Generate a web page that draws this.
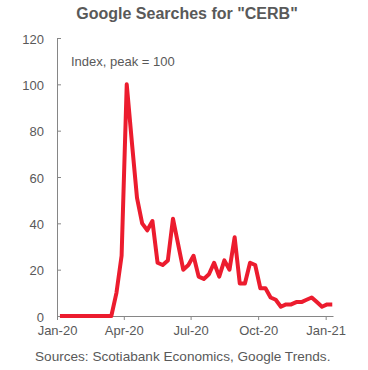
<!DOCTYPE html>
<html>
<head>
<meta charset="utf-8">
<script src="https://cdn.jsdelivr.net/npm/d3@7"></script>
<style>
  body { margin: 0; background: #fff; }
  text { font-family: 'Liberation Sans', Arial, sans-serif; }
</style>
</head>
<body>
<div id="chart"></div>
<script>
// Weekly Google Trends index for "CERB"
var weeks = [
  '2020-01-05', '2020-01-12', '2020-01-19', '2020-01-26', '2020-02-02', '2020-02-09',
  '2020-02-16', '2020-02-23', '2020-03-01', '2020-03-08', '2020-03-15', '2020-03-22',
  '2020-03-29', '2020-04-05', '2020-04-12', '2020-04-19', '2020-04-26', '2020-05-03',
  '2020-05-10', '2020-05-17', '2020-05-24', '2020-05-31', '2020-06-07', '2020-06-14',
  '2020-06-21', '2020-06-28', '2020-07-05', '2020-07-12', '2020-07-19', '2020-07-26',
  '2020-08-02', '2020-08-09', '2020-08-16', '2020-08-23', '2020-08-30', '2020-09-06',
  '2020-09-13', '2020-09-20', '2020-09-27', '2020-10-04', '2020-10-11', '2020-10-18',
  '2020-10-25', '2020-11-01', '2020-11-08', '2020-11-15', '2020-11-22', '2020-11-29',
  '2020-12-06', '2020-12-13', '2020-12-20', '2020-12-27', '2021-01-03', '2021-01-10'
]
var searches = [
  0, 0, 0, 0, 0, 0, 0, 0, 0, 0, 0, 10,
  26, 100, 75, 51, 40, 37, 41, 23, 22, 24, 42, 31,
  20, 22, 26, 17, 16, 18, 23, 17, 24, 20, 34, 14,
  14, 23, 22, 12, 12, 8, 7, 4, 5, 5, 6, 6,
  7, 8, 6, 4, 5, 5
]
var yTicks = [0, 20, 40, 60, 80, 100, 120]
var xDomain = ['2020-01-01', '2021-01-11']

var width = 368
var height = 370
var margin = { top: 38, left: 57, right: 35, bottom: 54 }

var parseDate = d3.timeParse('%Y-%m-%d')
var datapoints = weeks.map((w, i) => ({ date: parseDate(w), value: searches[i] }))

var svg = d3
  .select('#chart')
  .append('svg')
  .attr('width', width)
  .attr('height', height)

var xPositionScale = d3
  .scaleTime()
  .domain(xDomain.map(parseDate))
  .range([margin.left, width - margin.right])
var yPositionScale = d3
  .scaleLinear()
  .domain([0, 120])
  .range([height - margin.bottom, margin.top])

// Title
svg
  .append('text')
  .text('Google Searches for "CERB"')
  .attr('x', 187)
  .attr('y', 19)
  .attr('text-anchor', 'middle')
  .attr('font-size', 16)
  .attr('font-weight', 'bold')
  .attr('fill', '#595959')

// Axes
var yAxis = d3
  .axisLeft(yPositionScale)
  .tickValues(yTicks)
  .tickSizeInner(-4)
  .tickSizeOuter(0)
  .tickPadding(13)
svg
  .append('g')
  .attr('class', 'axis y-axis')
  .attr('transform', `translate(${margin.left}, 0)`)
  .call(yAxis)

var xAxis = d3
  .axisBottom(xPositionScale)
  .ticks(d3.timeMonth.every(3))
  .tickFormat(d3.timeFormat('%b-%y'))
  .tickSizeInner(4)
  .tickSizeOuter(0)
  .tickPadding(6)
svg
  .append('g')
  .attr('class', 'axis x-axis')
  .attr('transform', `translate(0, ${height - margin.bottom})`)
  .call(xAxis)

svg.selectAll('.axis path, .axis line').attr('stroke', '#868686')
svg
  .selectAll('.axis text')
  .attr('fill', '#595959')
  .attr('font-size', 13)
  .attr('font-family', "'Liberation Sans', Arial, sans-serif")
svg.selectAll('.y-axis text').attr('dy', '0.4em')

// Note inside the plot
svg
  .append('text')
  .text('Index, peak = 100')
  .attr('x', 71)
  .attr('y', 66)
  .attr('font-size', 13)
  .attr('fill', '#595959')

// The line
var line = d3
  .line()
  .x(d => xPositionScale(d.date))
  .y(d => yPositionScale(d.value))

svg
  .append('path')
  .datum(datapoints)
  .attr('d', line)
  .attr('fill', 'none')
  .attr('stroke', '#ec1c2e')
  .attr('stroke-width', 4)
  .attr('stroke-linejoin', 'round')

// Source
svg
  .append('text')
  .text('Sources: Scotiabank Economics, Google Trends.')
  .attr('x', 35)
  .attr('y', 361)
  .attr('font-size', 13.6)
  .attr('fill', '#595959')
</script>
</body>
</html>
